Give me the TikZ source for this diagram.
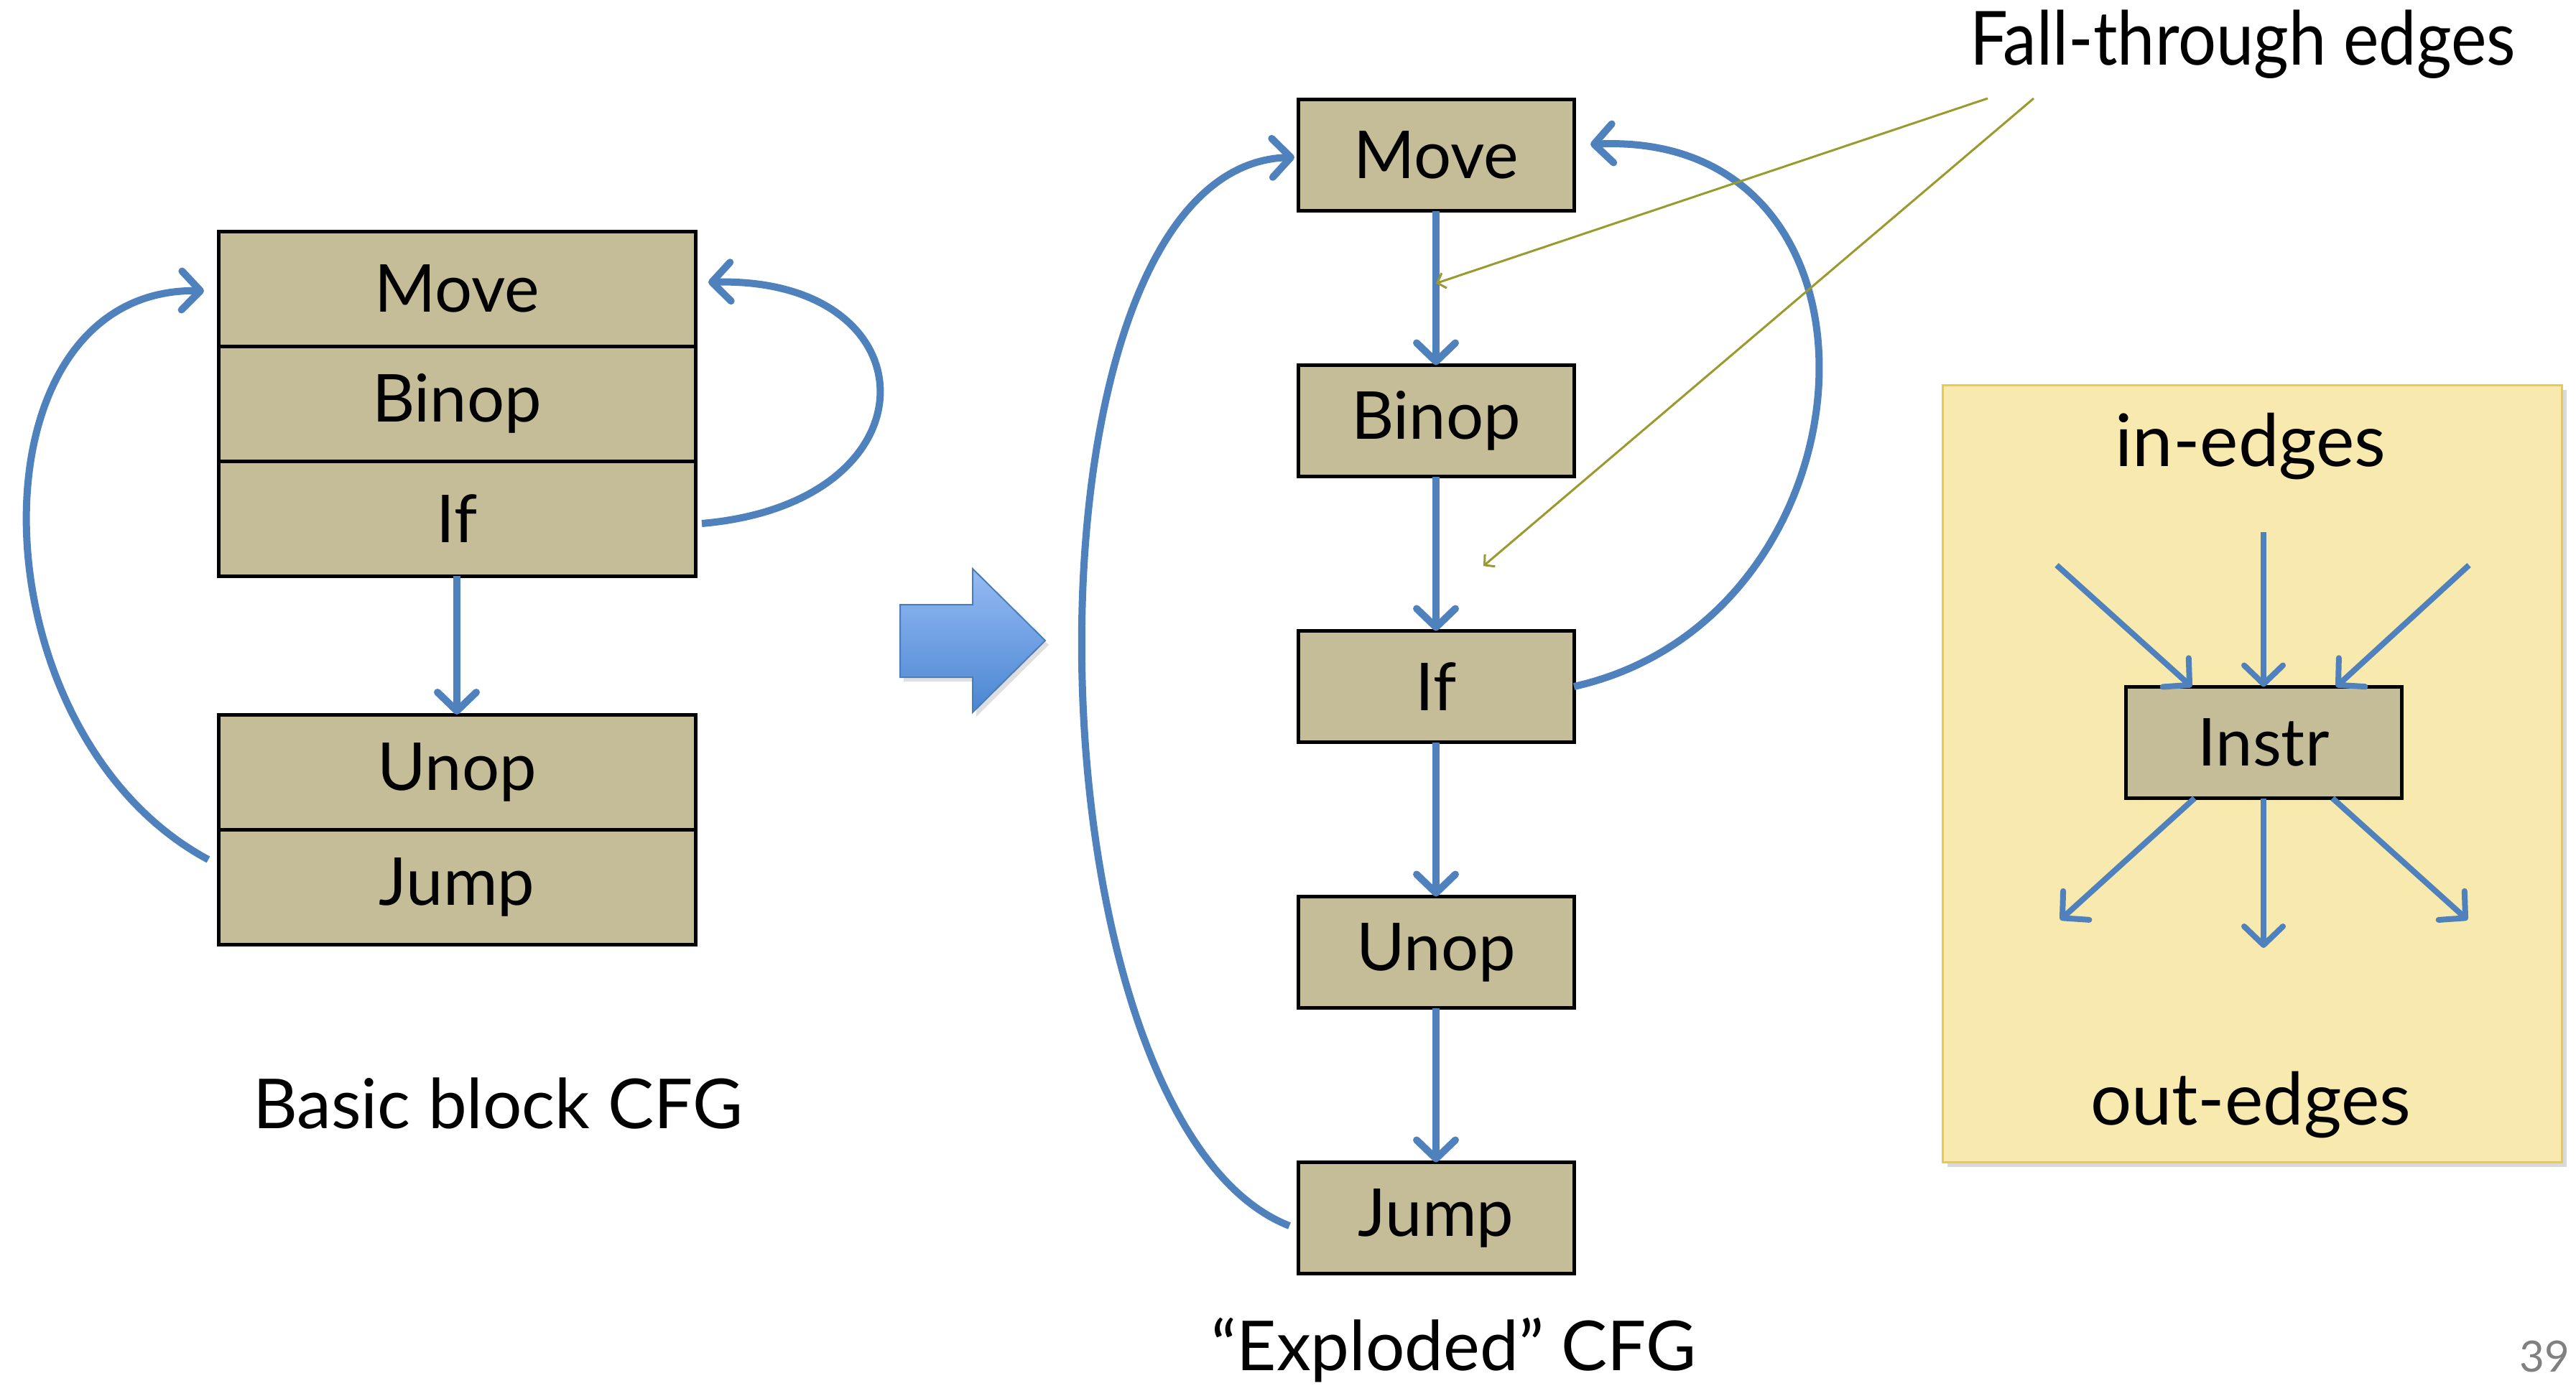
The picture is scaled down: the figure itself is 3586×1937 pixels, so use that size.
\documentclass[tikz,border=0pt]{standalone}
\usepackage{fontspec}
\setmainfont{Lato}
\usetikzlibrary{arrows.meta,positioning,shadows,calc}

\definecolor{cfgtan}{HTML}{C4BD97}
\definecolor{cfgblue}{HTML}{4F81BD}
\definecolor{cfgolive}{HTML}{9A9A2E}
\definecolor{panelfill}{HTML}{F8E9AF}
\definecolor{paneldraw}{HTML}{EBC94A}
\definecolor{arrowtop}{HTML}{95BBF3}
\definecolor{arrowbottom}{HTML}{4A86D2}
\definecolor{arrowdraw}{HTML}{4A7EBB}

\begin{document}
\begin{tikzpicture}[x=1pt,y=1pt]
	% styles for the instruction boxes and the edges between them
	\tikzset{
	        instr/.style={draw=black, line width=5pt, fill=cfgtan, outer sep=0pt, inner sep=0pt,
	                minimum width=384pt, minimum height=155pt, font=\fontsize{92}{100}\selectfont}, % one box of the exploded CFG
	        row/.style={instr, minimum width=664pt, minimum height=160pt}, % one row of the basic block
	        flow/.style={draw=cfgblue, line width=10pt, -{Straight Barb[length=26pt,width=54pt,round]}}, % control flow edge
	        hint/.style={draw=cfgolive, line width=3pt, -{Straight Barb[length=10pt,width=22pt]}}, % pointer from the note
	        caption/.style={font=\fontsize{96}{110}\selectfont},
	        node distance=215pt,
	}
	\useasboundingbox (0,0) rectangle (3586,-1937);

	% the basic block CFG, rows stacked on one another
	\node[row] (mv1) at (636,-402) {Move};
	\node[row, below=0pt of mv1] (bn1) {Binop};
	\node[row, below=0pt of bn1] (if1) {If};
	\node[row, below=193pt of if1] (un1) {Unop};
	\node[row, below=0pt of un1] (jp1) {Jump};
	\node[caption] (basic) at (693,-1537) {Basic block CFG};

	\draw[flow] (if1) -- (un1);
	\draw[flow] ([shift={(9,-7)}]if1.east) .. controls (1310,-700) and (1300,-385) .. ([shift={(18,9)}]mv1.east);
	\draw[flow] ([shift={(-14,38)}]jp1.west) .. controls (-40,-1020) and (-50,-400) .. ([shift={(-20,-3)}]mv1.west);

	% the big arrow in between
	\path[draw=arrowdraw, line width=2pt, top color=arrowtop, bottom color=arrowbottom,
	      drop shadow={shadow xshift=5pt, shadow yshift=-6pt, opacity=0.25}]
	      (1253,-842) -- (1354,-842) -- (1354,-792) -- (1455,-892) -- (1354,-992) -- (1354,-943) -- (1253,-943) -- cycle;

	% the exploded CFG, one box per instruction
	\node[instr] (mv2) at (1999,-216) {Move};
	\node[instr, below=of mv2] (bn2) {Binop};
	\node[instr, below=of bn2] (if2) {If};
	\node[instr, below=of if2] (un2) {Unop};
	\node[instr, below=of un2] (jp2) {Jump};
	\node[caption] (exploded) at (2024,-1880) {“Exploded” CFG};

	\draw[flow] (mv2) -- (bn2);
	\draw[flow] (bn2) -- (if2);
	\draw[flow] (if2) -- (un2);
	\draw[flow] (un2) -- (jp2);
	\draw[flow] (if2.east) .. controls (2620,-860) and (2660,-180) .. ([shift={(23,15)}]mv2.east);
	\draw[flow] ([shift={(-12,-11)}]jp2.west) .. controls (1420,-1560) and (1400,-230) .. ([shift={(-5,-3)}]mv2.west);

	% the note on the fall-through edges
	\node[font=\fontsize{104}{110}\selectfont] (ftnote) at (3122,-62) {\scalebox{0.9}[1]{Fall-through edges}};
	\coordinate (ft1) at (2767,-137);
	\coordinate (ft2) at (2831,-137);
	\draw[hint] (ft1) -- ($(mv2.south)!0.47!(bn2.north)$);
	\draw[hint] (ft2) -- ($(bn2.south)!0.58!(if2.north)+(66,0)$);

	% the panel with in-edges and out-edges
	\node[draw=paneldraw, line width=3pt, fill=panelfill, minimum width=862pt, minimum height=1082pt,
	      drop shadow={shadow xshift=7pt, shadow yshift=-7pt, opacity=0.3}] (panel) at (3135,-1077) {};
	\node[caption, font=\fontsize{101}{110}\selectfont] (inlbl) at (3133,-622) {in-edges};
	\node[instr] (inst) at (3151,-1034) {Instr};
	\node[caption, font=\fontsize{101}{110}\selectfont] (outlbl) at (3133,-1539) {out-edges};
	\coordinate (inl) at (2863,-787);
	\coordinate (inm) at (3151,-741);
	\coordinate (inr) at (3437,-787);
	\coordinate (outl) at (2868,-1281);
	\coordinate (outm) at (3151,-1320);
	\coordinate (outr) at (3435,-1281);
	\draw[flow, line width=8pt] (inl) -- ([xshift=-100]inst.north);
	\draw[flow, line width=8pt] (inm) -- (inst.north);
	\draw[flow, line width=8pt] (inr) -- ([xshift=101]inst.north);
	\draw[flow, line width=8pt] ([xshift=-96]inst.south) -- (outl);
	\draw[flow, line width=8pt] (inst.south) -- (outm);
	\draw[flow, line width=8pt] ([xshift=96]inst.south) -- (outr);

	\node[font=\fontsize{60}{70}\selectfont, text=gray] (pagenum) at (3542,-1889) {39};
\end{tikzpicture}
\end{document}
